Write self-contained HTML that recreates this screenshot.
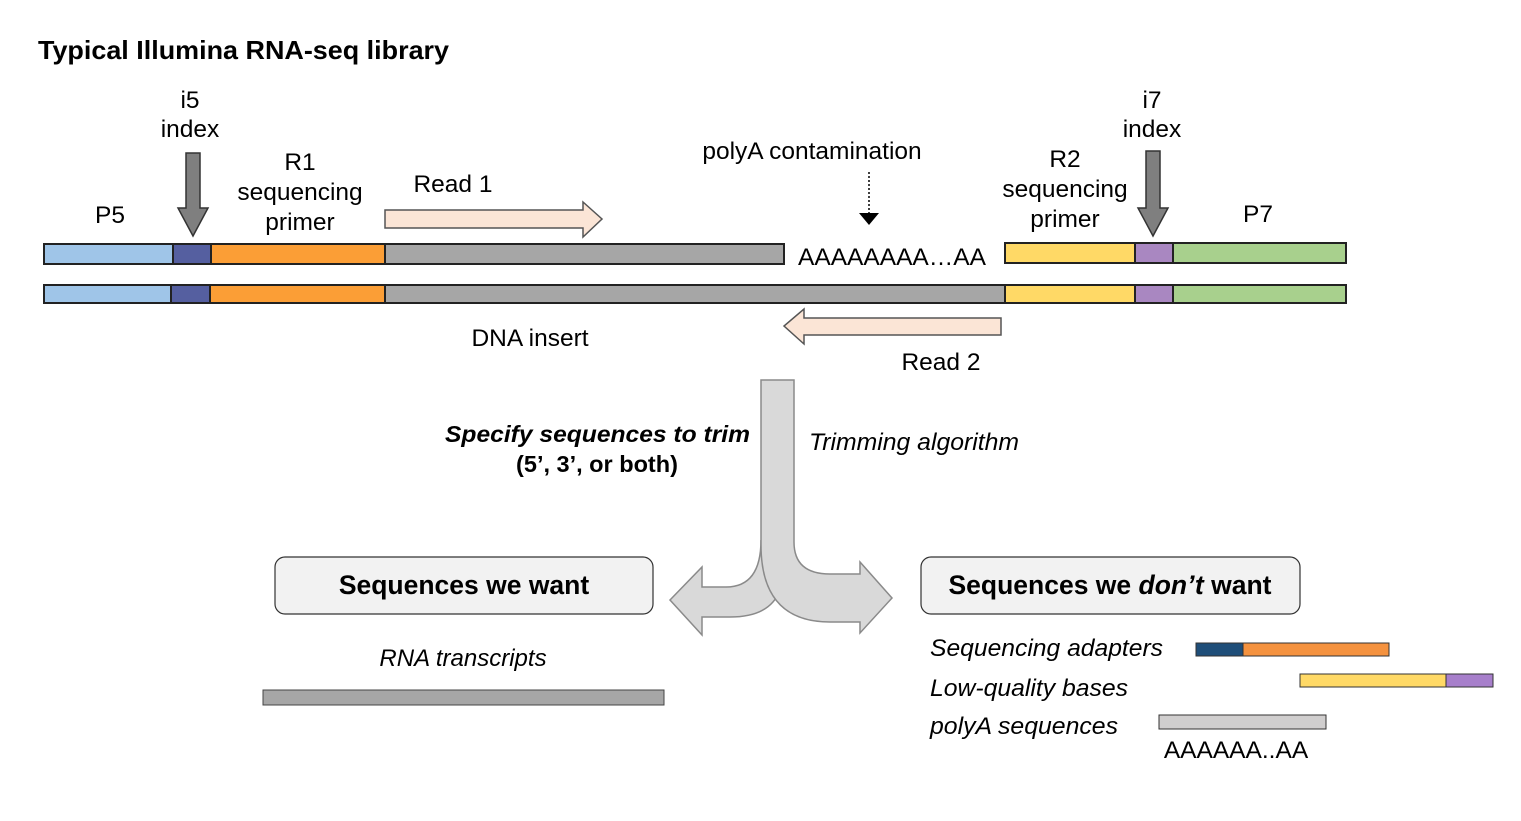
<!DOCTYPE html>
<html><head><meta charset="utf-8"><style>
html,body{margin:0;padding:0;background:#fff;}
svg{display:block;font-family:"Liberation Sans",Arial,sans-serif;}
</style></head><body>
<svg width="1521" height="821" viewBox="0 0 1521 821" xmlns="http://www.w3.org/2000/svg">
<rect width="1521" height="821" fill="#fff"/>
<text x="38" y="59" font-size="26" font-weight="bold" textLength="411" lengthAdjust="spacingAndGlyphs">Typical Illumina RNA-seq library</text>
<g font-size="24.5" text-anchor="middle" fill="#000">
<text x="190" y="108">i5</text><text x="190" y="137">index</text>
<text x="300" y="170">R1</text><text x="300" y="200">sequencing</text><text x="300" y="230">primer</text>
<text x="110" y="223">P5</text>
<text x="453" y="192">Read 1</text>
<text x="812" y="159">polyA contamination</text>
<text x="1065" y="167">R2</text><text x="1065" y="197">sequencing</text><text x="1065" y="227">primer</text>
<text x="1152" y="108">i7</text><text x="1152" y="137">index</text>
<text x="1258" y="222">P7</text>
<text x="892" y="265">AAAAAAAA…AA</text>
<text x="530" y="346">DNA insert</text>
<text x="941" y="370">Read 2</text>
</g>
<g stroke="#222" stroke-width="2">
<rect x="44" y="244" width="129" height="20" fill="#9fc5e8"/>
<rect x="173" y="244" width="38" height="20" fill="#555fa0"/>
<rect x="211" y="244" width="174" height="20" fill="#fb9e36"/>
<rect x="385" y="244" width="399" height="20" fill="#a6a6a6"/>
<rect x="1005" y="243" width="130" height="20" fill="#ffd966"/>
<rect x="1135" y="243" width="38" height="20" fill="#a987c1"/>
<rect x="1173" y="243" width="173" height="20" fill="#a8d08d"/>
<rect x="44" y="285" width="127" height="18" fill="#9fc5e8"/>
<rect x="171" y="285" width="39" height="18" fill="#555fa0"/>
<rect x="210" y="285" width="175" height="18" fill="#fb9e36"/>
<rect x="385" y="285" width="620" height="18" fill="#a6a6a6"/>
<rect x="1005" y="285" width="130" height="18" fill="#ffd966"/>
<rect x="1135" y="285" width="38" height="18" fill="#a987c1"/>
<rect x="1173" y="285" width="173" height="18" fill="#a8d08d"/>
</g>
<polygon points="385,210 583,210 583,202 602,219 583,237 583,228 385,228" fill="#fbe5d6" stroke="#555" stroke-width="1.5"/>
<polygon points="1001,318 804,318 804,309 784,326 804,344 804,335 1001,335" fill="#fbe5d6" stroke="#555" stroke-width="1.5"/>
<polygon points="186,153 200,153 200,208 208,208 193,236 178,208 186,208" fill="#7f7f7f" stroke="#333" stroke-width="1.5"/>
<polygon points="1146,151 1160,151 1160,208 1168,208 1153,236 1138,208 1146,208" fill="#7f7f7f" stroke="#333" stroke-width="1.5"/>
<line x1="869" y1="172" x2="869" y2="213" stroke="#000" stroke-width="1.5" stroke-dasharray="2,2"/>
<polygon points="859,213 879,213 869,225" fill="#000"/>
<path d="M761,540 Q761,587 726,587 L702,587 L702,567 L670,600 L702,635 L702,617 L730,617 Q770,617 780,590 Z" fill="#d9d9d9" stroke="#8a8a8a" stroke-width="1.5"/>
<path d="M761,380 L794,380 L794,542 Q794,574 830,574 L860,574 L860,562 L892,598 L860,633 L860,622 L830,622 Q761,622 761,545 Z" fill="#d9d9d9" stroke="#8a8a8a" stroke-width="1.5"/>
<text x="750" y="442" font-size="23.5" font-weight="bold" font-style="italic" text-anchor="end" textLength="305" lengthAdjust="spacingAndGlyphs">Specify sequences to trim</text>
<text x="597" y="472" font-size="23.5" font-weight="bold" text-anchor="middle">(5’, 3’, or both)</text>
<text x="809" y="450" font-size="24" font-style="italic" textLength="210" lengthAdjust="spacingAndGlyphs">Trimming algorithm</text>
<rect x="275" y="557" width="378" height="57" rx="10" fill="#f2f2f2" stroke="#333" stroke-width="1.2"/>
<text x="464" y="594" font-size="26.5" font-weight="bold" text-anchor="middle">Sequences we want</text>
<rect x="921" y="557" width="379" height="57" rx="10" fill="#f2f2f2" stroke="#333" stroke-width="1.2"/>
<text x="1110" y="594" font-size="26.5" font-weight="bold" text-anchor="middle">Sequences we <tspan font-style="italic">don’t</tspan> want</text>
<text x="463" y="666" font-size="24" font-style="italic" text-anchor="middle">RNA transcripts</text>
<rect x="263" y="690" width="401" height="15" fill="#a6a6a6" stroke="#444" stroke-width="1"/>
<g font-size="24" font-style="italic">
<text x="930" y="656" textLength="233" lengthAdjust="spacingAndGlyphs">Sequencing adapters</text>
<text x="930" y="696" textLength="198" lengthAdjust="spacingAndGlyphs">Low-quality bases</text>
<text x="930" y="734" textLength="188" lengthAdjust="spacingAndGlyphs">polyA sequences</text>
</g>
<g stroke="#333" stroke-width="1">
<rect x="1196" y="643" width="47" height="13" fill="#1f4e79"/>
<rect x="1243" y="643" width="146" height="13" fill="#f4923f"/>
<rect x="1300" y="674" width="146" height="13" fill="#ffd966"/>
<rect x="1446" y="674" width="47" height="13" fill="#a77fcb"/>
<rect x="1159" y="715" width="167" height="14" fill="#d0cece"/>
</g>
<text x="1236" y="758" font-size="24.5" text-anchor="middle">AAAAAA..AA</text>
</svg>
</body></html>
